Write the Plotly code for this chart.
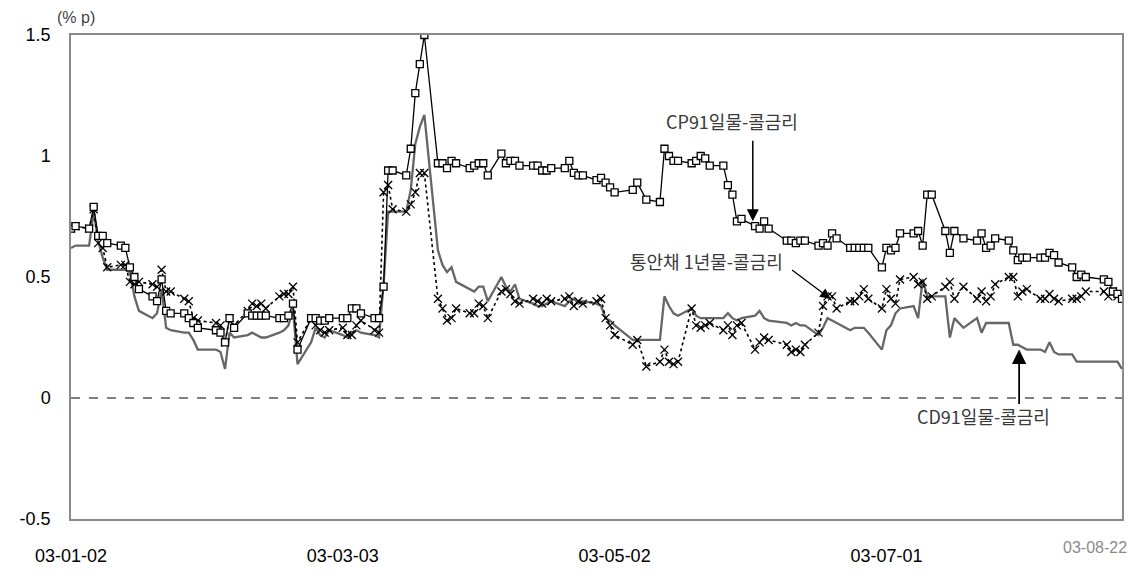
import pandas as pd
import plotly.graph_objects as go

# Trading days (Jan 2 - Aug 22, 2003, Korean market holidays removed)
holidays = ["2003-01-31", "2003-05-05", "2003-05-08", "2003-06-06", "2003-07-17", "2003-08-15"]
dates = [d for d in pd.bdate_range("2003-01-02", "2003-08-22") if d.strftime("%Y-%m-%d") not in holidays]

# CP91일물 - 콜금리 (%p)
cp_jan = [0.70, 0.71, 0.70, 0.79, 0.67, 0.67, 0.64, 0.63, 0.62, 0.54, 0.50, 0.45, 0.42, 0.40, 0.49, 0.36, 0.35, 0.35, 0.33, 0.31, 0.29]
cp_feb = [0.28, 0.27, 0.23, 0.33, 0.29, 0.35, 0.34, 0.34, 0.34, 0.34, 0.33, 0.33, 0.34, 0.39, 0.20, 0.33, 0.33, 0.32, 0.32, 0.33]
cp_mar = [0.33, 0.33, 0.37, 0.37, 0.35, 0.33, 0.33, 0.46, 0.94, 0.94, 0.92, 1.03, 1.26, 1.38, 1.50, 0.97, 0.97, 0.95, 0.98, 0.97, 0.95]
cp_apr = [0.96, 0.97, 0.97, 0.92, 1.01, 0.97, 0.98, 0.98, 0.96, 0.96, 0.96, 0.94, 0.94, 0.95, 0.95, 0.98, 0.93, 0.92, 0.92, 0.90, 0.91, 0.89]
cp_may = [0.87, 0.85, 0.86, 0.89, 0.82, 0.81, 1.03, 1.00, 0.98, 0.98, 0.97, 0.98, 1.00, 0.99, 0.96, 0.96, 0.88, 0.84, 0.73, 0.74]
cp_jun = [0.71, 0.70, 0.73, 0.70, 0.65, 0.65, 0.64, 0.65, 0.65, 0.63, 0.64, 0.63, 0.68, 0.66, 0.62, 0.62, 0.62, 0.62, 0.62, 0.54]
cp_jul = [0.62, 0.61, 0.62, 0.68, 0.68, 0.69, 0.63, 0.84, 0.84, 0.69, 0.60, 0.69, 0.66, 0.65, 0.68, 0.62, 0.63, 0.66, 0.65, 0.61, 0.57, 0.58]
cp_aug = [0.58, 0.58, 0.58, 0.60, 0.59, 0.56, 0.54, 0.50, 0.51, 0.50, 0.49, 0.48, 0.44, 0.43, 0.41]

# 통안채1년물 - 콜금리 (%p)
msb_jan = [0.70, 0.71, 0.70, 0.78, 0.64, 0.62, 0.54, 0.55, 0.55, 0.48, 0.47, 0.48, 0.47, 0.46, 0.53, 0.44, 0.44, 0.41, 0.40, 0.33, 0.32]
msb_feb = [0.31, 0.30, 0.23, 0.33, 0.30, 0.36, 0.39, 0.38, 0.39, 0.37, 0.42, 0.43, 0.43, 0.46, 0.23, 0.33, 0.30, 0.28, 0.27, 0.28]
msb_mar = [0.29, 0.26, 0.26, 0.30, 0.32, 0.28, 0.27, 0.85, 0.88, 0.78, 0.77, 0.80, 0.85, 0.93, 0.93, 0.41, 0.37, 0.32, 0.33, 0.37, 0.35]
msb_apr = [0.35, 0.39, 0.38, 0.33, 0.44, 0.45, 0.43, 0.40, 0.39, 0.41, 0.40, 0.39, 0.41, 0.40, 0.41, 0.42, 0.38, 0.40, 0.39, 0.40, 0.41, 0.33]
msb_may = [0.30, 0.26, 0.22, 0.24, 0.13, 0.15, 0.20, 0.15, 0.14, 0.15, 0.37, 0.30, 0.29, 0.30, 0.31, 0.28, 0.30, 0.26, 0.30, 0.31]
msb_jun = [0.20, 0.23, 0.25, 0.24, 0.22, 0.19, 0.20, 0.19, 0.22, 0.27, 0.38, 0.42, 0.42, 0.37, 0.40, 0.40, 0.42, 0.45, 0.41, 0.37]
msb_jul = [0.45, 0.41, 0.39, 0.49, 0.50, 0.47, 0.48, 0.41, 0.42, 0.46, 0.48, 0.41, 0.46, 0.41, 0.44, 0.40, 0.42, 0.47, 0.50, 0.50, 0.42, 0.44]
msb_aug = [0.45, 0.41, 0.41, 0.43, 0.41, 0.40, 0.41, 0.41, 0.42, 0.44, 0.44, 0.42, 0.44, 0.42, 0.42]

# CD91일물 - 콜금리 (%p)
cd_jan = [0.62, 0.63, 0.63, 0.77, 0.65, 0.58, 0.53, 0.53, 0.53, 0.52, 0.42, 0.36, 0.33, 0.35, 0.45, 0.29, 0.28, 0.27, 0.27, 0.24, 0.20]
cd_feb = [0.20, 0.19, 0.12, 0.27, 0.25, 0.26, 0.27, 0.26, 0.25, 0.25, 0.27, 0.28, 0.30, 0.37, 0.14, 0.23, 0.29, 0.26, 0.25, 0.28]
cd_mar = [0.26, 0.25, 0.27, 0.28, 0.27, 0.26, 0.25, 0.47, 0.77, 0.77, 0.77, 0.86, 1.05, 1.12, 1.17, 0.61, 0.55, 0.52, 0.54, 0.48, 0.45]
cd_apr = [0.44, 0.46, 0.46, 0.40, 0.50, 0.46, 0.44, 0.47, 0.41, 0.39, 0.38, 0.38, 0.39, 0.40, 0.38, 0.40, 0.41, 0.39, 0.40, 0.39, 0.38, 0.33]
cd_may = [0.32, 0.30, 0.24, 0.24, 0.24, 0.24, 0.42, 0.38, 0.35, 0.34, 0.37, 0.34, 0.33, 0.33, 0.33, 0.33, 0.35, 0.33, 0.32, 0.33]
cd_jun = [0.34, 0.36, 0.33, 0.32, 0.31, 0.30, 0.31, 0.30, 0.30, 0.26, 0.29, 0.33, 0.32, 0.31, 0.28, 0.29, 0.29, 0.29, 0.27, 0.20]
cd_jul = [0.28, 0.30, 0.35, 0.37, 0.38, 0.33, 0.49, 0.42, 0.42, 0.42, 0.25, 0.33, 0.29, 0.33, 0.27, 0.31, 0.31, 0.31, 0.31, 0.22, 0.22, 0.21]
cd_aug = [0.20, 0.20, 0.19, 0.23, 0.19, 0.18, 0.18, 0.15, 0.15, 0.15, 0.15, 0.15, 0.15, 0.15, 0.12]

tick_dates = ["2003-01-02", "2003-03-03", "2003-05-02", "2003-07-01"]
tick_labels = ["03-01-02", "03-03-03", "03-05-02", "03-07-01"]
end_label = "03-08-22"
y_ticks = [-0.5, 0, 0.5, 1, 1.5]
y_labels = ["-0.5", "0", "0.5", "1", "1.5"]

cp = cp_jan + cp_feb + cp_mar + cp_apr + cp_may + cp_jun + cp_jul + cp_aug
msb = msb_jan + msb_feb + msb_mar + msb_apr + msb_may + msb_jun + msb_jul + msb_aug
cd = cd_jan + cd_feb + cd_mar + cd_apr + cd_may + cd_jun + cd_jul + cd_aug
assert len(cp) == len(dates) == len(msb) == len(cd), (len(cp), len(msb), len(cd), len(dates))

# page layout (the page body has an 8px margin)
W, H = 1132, 570
ML, MR, MT, MB = 49, 18, 27, 37
PW, PH = W - ML - MR, H - MT - MB


def px(xp):  # page x -> paper x
    return (xp - 8 - ML) / PW


def py(yp):  # page y -> paper y
    return 1 - (yp - 8 - MT) / PH


fig = go.Figure()
fig.add_trace(go.Scatter(x=dates, y=cd, mode="lines", name="CD91일물-콜금리",
                         line=dict(color="#666666", width=2.3)))
fig.add_trace(go.Scatter(x=dates, y=msb, mode="lines+markers", name="통안채1년물-콜금리",
                         line=dict(color="#000000", width=1.6, dash="dot"),
                         marker=dict(symbol="x-thin", size=8, line=dict(color="#000000", width=1.3))))
fig.add_trace(go.Scatter(x=dates, y=cp, mode="lines+markers", name="CP91일물-콜금리",
                         line=dict(color="#000000", width=1.3),
                         marker=dict(symbol="square", size=7, color="#ffffff",
                                     line=dict(color="#000000", width=1.3))))

# zero reference line
fig.add_shape(type="line", xref="paper", yref="y", x0=0, x1=1, y0=0, y1=0,
              line=dict(color="#000000", width=1, dash="dash"))

ann_font = dict(family="Noto Sans CJK KR, sans-serif", size=18, color="#3a3a3a")
# CP label + arrow
fig.add_annotation(x="2003-06-01 12:00", y=0.73, ax=0, ay=-82, axref="pixel", ayref="pixel",
                   text="", showarrow=True, arrowhead=2, arrowsize=1.6, arrowwidth=1.5, arrowcolor="#000000")
fig.add_annotation(xref="paper", yref="paper", x=px(727), y=py(125), xanchor="center", yanchor="middle",
                   text="CP91일물-콜금리", showarrow=False, font=ann_font)
# MSB label + arrow
fig.add_annotation(x="2003-06-18 16:00", y=0.41, ax=-40, ay=-30, axref="pixel", ayref="pixel",
                   text="", showarrow=True, arrowhead=2, arrowsize=1.6, arrowwidth=1.3, arrowcolor="#000000")
fig.add_annotation(xref="paper", yref="paper", x=px(701), y=py(271), xanchor="center", yanchor="middle",
                   text="통안채 1년물-콜금리", showarrow=False, font=ann_font)
# CD label + arrow
fig.add_annotation(x="2003-07-30 07:00", y=0.20, ax=0, ay=56, axref="pixel", ayref="pixel",
                   text="", showarrow=True, arrowhead=2, arrowsize=1.6, arrowwidth=1.8, arrowcolor="#000000")
fig.add_annotation(xref="paper", yref="paper", x=px(982), y=py(433), xanchor="center", yanchor="middle",
                   text="CD91일물-콜금리", showarrow=False, font=ann_font)

# unit label and last date label
fig.add_annotation(xref="paper", yref="paper", x=px(62), y=py(17), xanchor="center", yanchor="middle",
                   text="(% p)", showarrow=False,
                   font=dict(family="Liberation Sans, Arial", size=16, color="#444444"))
fig.add_annotation(xref="paper", yref="paper", x=px(1095), y=py(571), xanchor="center", yanchor="middle",
                   text=end_label, showarrow=False,
                   font=dict(family="Liberation Sans, Arial", size=16, color="#8a8a8a"))

fig.update_layout(
    width=W, height=H,
    margin=dict(l=ML, r=MR, t=MT, b=MB, pad=0),
    paper_bgcolor="#ffffff", plot_bgcolor="#ffffff",
    showlegend=False,
)
fig.update_xaxes(type="date", range=["2003-01-02", "2003-08-22"],
                 tickvals=tick_dates, ticktext=tick_labels,
                 ticks="", showgrid=False, zeroline=False,
                 showline=True, mirror=True, linecolor="#8a8a8a", linewidth=1.5,
                 ticklabelstandoff=20,
                 tickfont=dict(family="Liberation Sans Narrow, Arial Narrow, sans-serif", size=18, color="#000000"))
fig.update_yaxes(range=[-0.5, 1.5], tickvals=y_ticks, ticktext=y_labels,
                 ticks="", showgrid=False, zeroline=False,
                 showline=True, mirror=True, linecolor="#8a8a8a", linewidth=1.5,
                 ticklabelstandoff=15,
                 tickfont=dict(family="Liberation Sans, Arial", size=18, color="#000000"))

fig.write_html("out.html")
